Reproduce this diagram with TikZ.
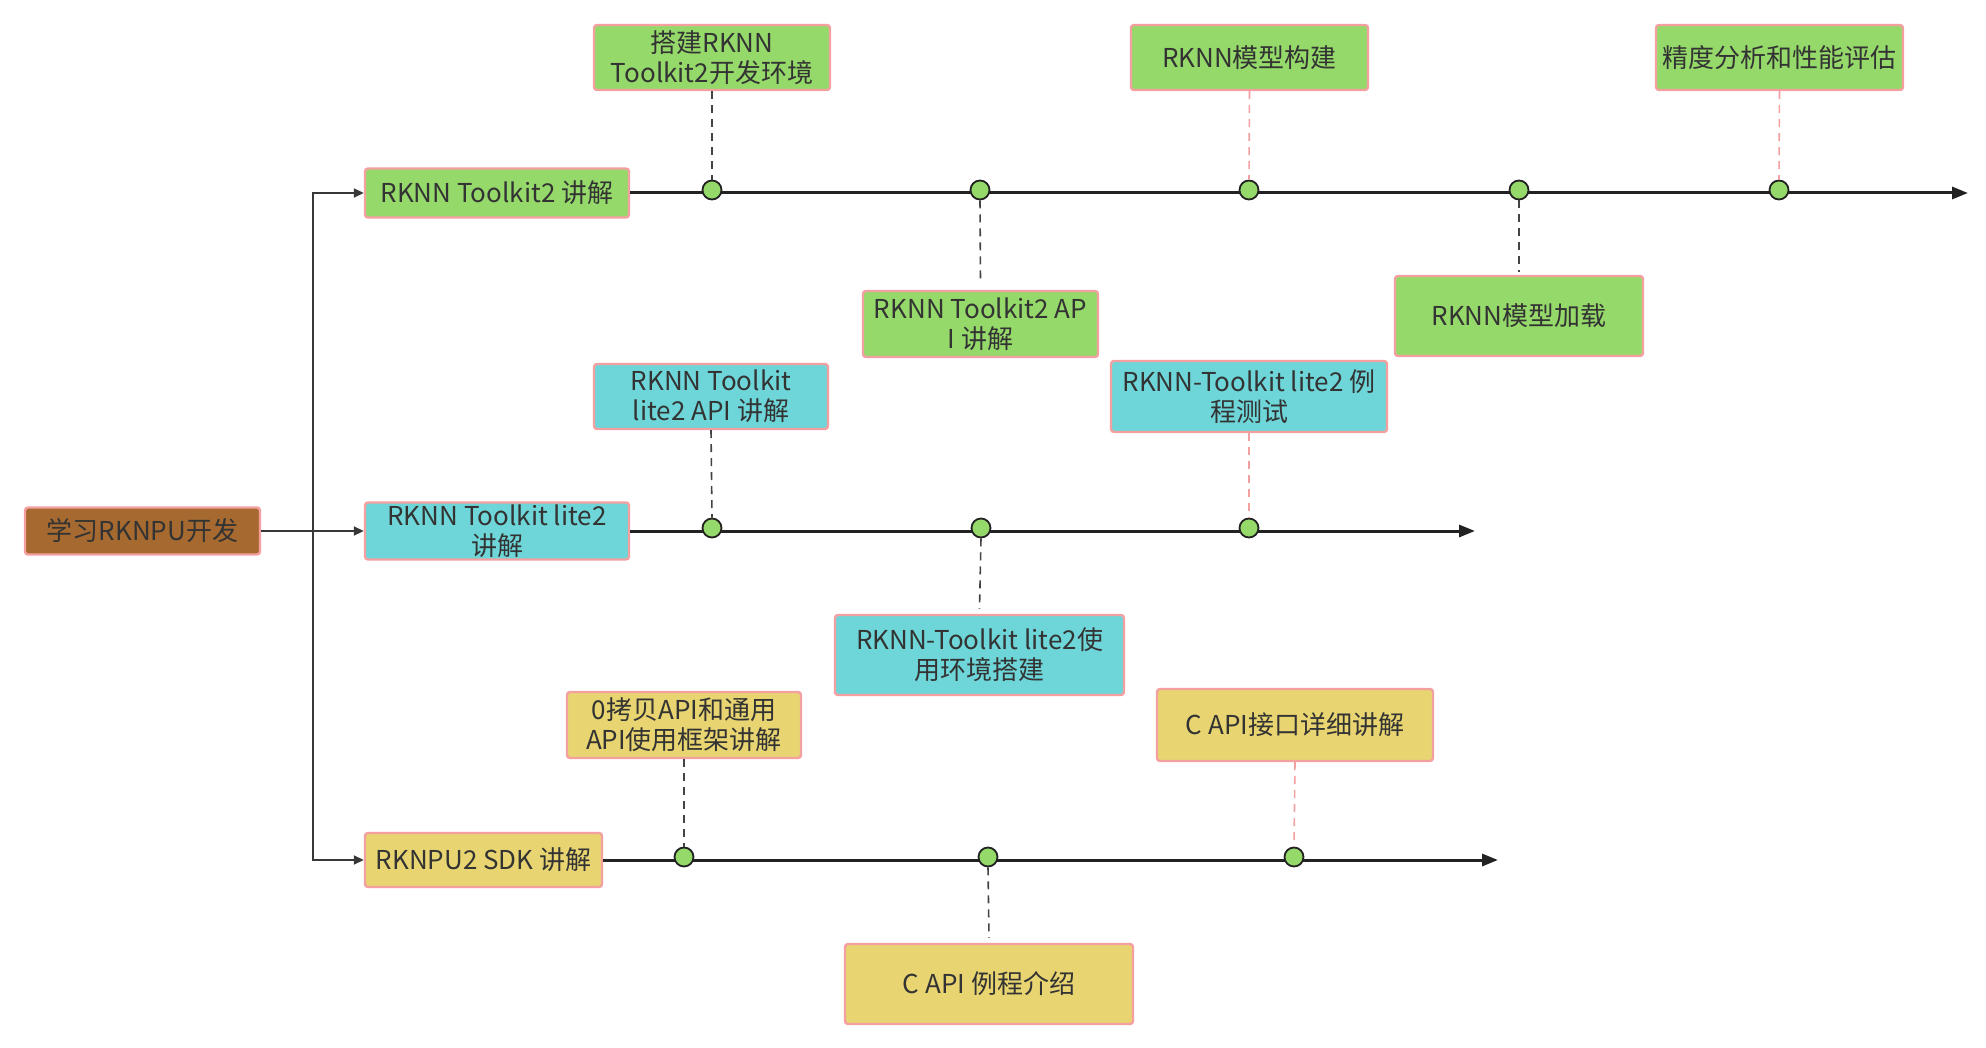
\documentclass[tikz,border=0pt]{standalone}
\usepackage{fontspec}
\setmainfont{Noto Sans CJK SC}
\usetikzlibrary{arrows.meta}
\definecolor{gfill}{HTML}{95D96A}
\definecolor{cfill}{HTML}{6ED6D8}
\definecolor{yfill}{HTML}{E8D571}
\definecolor{bfill}{HTML}{A66A30}
\definecolor{pinkline}{HTML}{F5A0A0}
\definecolor{txt}{HTML}{333333}
\definecolor{lin}{HTML}{222222}
\tikzset{
  box/.style={draw=pinkline, line width=1.2pt, rounded corners=1.5pt, align=center,
    text=txt, inner sep=0pt, font=\fontsize{13}{15}\selectfont},
  gbox/.style={box, fill=gfill},
  cbox/.style={box, fill=cfill},
  ybox/.style={box, fill=yfill},
  rootbox/.style={box, fill=bfill},
  dot/.style={circle, draw=lin, line width=0.9pt, fill=gfill, minimum size=9.5pt, inner sep=0pt},
  tline/.style={draw=lin, line width=1.5pt, -{Triangle[length=8pt,width=6pt]}},
  bline/.style={draw=lin!90, line width=0.9pt, -{Triangle[length=5pt,width=4.5pt]}},
  dblack/.style={draw=lin!85, line width=0.8pt, dash pattern=on 4pt off 3pt},
  dpink/.style={draw=pinkline, line width=0.8pt, dash pattern=on 4pt off 3pt},
}
\begin{document}
\begin{tikzpicture}[x=0.5pt,y=-0.5pt]
\useasboundingbox (0,0) rectangle (1986,1048);
% main boxes
\node[rootbox, minimum width=117.5pt, minimum height=23.5pt] (root) at (142.5,531) {学习RKNPU开发};
\node[gbox, minimum width=132pt, minimum height=24.5pt] (tk2) at (497,193) {RKNN Toolkit2 讲解};
\node[cbox, minimum width=132pt, minimum height=28.5pt] (lite2) at (497,531) {RKNN Toolkit lite2\\讲解};
\node[ybox, minimum width=118.5pt, minimum height=27pt] (sdk) at (483.5,860) {RKNPU2 SDK 讲解};
% branch
\coordinate (br) at (313,531);
\draw[bline] (root.east) -- (lite2.west);
\draw[bline] (br) |- (tk2.west);
\draw[bline] (br) |- (sdk.west);
% timelines
\coordinate (e1) at (1968,193);
\coordinate (e2) at (1475,531);
\coordinate (e3) at (1498,860);
\draw[tline] (tk2.east) -- (e1);
\draw[tline] (lite2.east) -- (e2);
\draw[tline] (sdk.east) -- (e3);
% dots
\node[dot] (a1) at (712,190) {};
\node[dot] (a2) at (980,190) {};
\node[dot] (a3) at (1249,190) {};
\node[dot] (a4) at (1519,190) {};
\node[dot] (a5) at (1779,190) {};
\node[dot] (b1) at (712,528) {};
\node[dot] (b2) at (981,528) {};
\node[dot] (b3) at (1249,528) {};
\node[dot] (c1) at (684,857) {};
\node[dot] (c2) at (988,857) {};
\node[dot] (c3) at (1294,857) {};
% event boxes
\node[gbox, minimum width=118pt, minimum height=32.5pt] (g1) at (712,57.5) {搭建RKNN\\Toolkit2开发环境};
\node[gbox, minimum width=117.5pt, minimum height=33pt] (g2) at (980.5,324) {RKNN Toolkit2 AP\\I 讲解};
\node[gbox, minimum width=118.5pt, minimum height=32.5pt] (g3) at (1249.5,57.5) {RKNN模型构建};
\node[gbox, minimum width=124pt, minimum height=40pt] (g4) at (1519,316) {RKNN模型加载};
\node[gbox, minimum width=123.5pt, minimum height=32.5pt] (g5) at (1779.5,57.5) {精度分析和性能评估};
\node[cbox, minimum width=117pt, minimum height=32.5pt] (k1) at (711,396.5) {RKNN Toolkit\\lite2 API 讲解};
\node[cbox, minimum width=144.5pt, minimum height=40pt] (k2) at (979.5,655) {RKNN-Toolkit lite2使\\用环境搭建};
\node[cbox, minimum width=138pt, minimum height=35.5pt] (k3) at (1249,396.5) {RKNN-Toolkit lite2 例\\程测试};
\node[ybox, minimum width=117pt, minimum height=33pt] (y1) at (684,725) {0拷贝API和通用\\API使用框架讲解};
\node[ybox, minimum width=144pt, minimum height=40pt] (y2) at (989,984) {C API 例程介绍};
\node[ybox, minimum width=138pt, minimum height=36pt] (y3) at (1295,725) {C API接口详细讲解};
% dashed connectors
\draw[dblack] (g1.south) -- (a1.north);
\draw[dblack] (a2.south) -- ([yshift=3pt]g2.north);
\draw[dpink] (g3.south) -- (a3.north);
\draw[dblack] (a4.south) -- ([yshift=1.5pt]g4.north);
\draw[dpink] (g5.south) -- (a5.north);
\draw[dblack] (k1.south) -- (b1.north);
\draw[dblack] (b2.south) -- ([yshift=2.5pt]k2.north);
\draw[dpink] (k3.south) -- (b3.north);
\draw[dblack] (y1.south) -- (c1.north);
\draw[dblack] (c2.south) -- ([yshift=2.5pt]y2.north);
\draw[dpink] (y3.south) -- (c3.north);
\end{tikzpicture}
\end{document}
